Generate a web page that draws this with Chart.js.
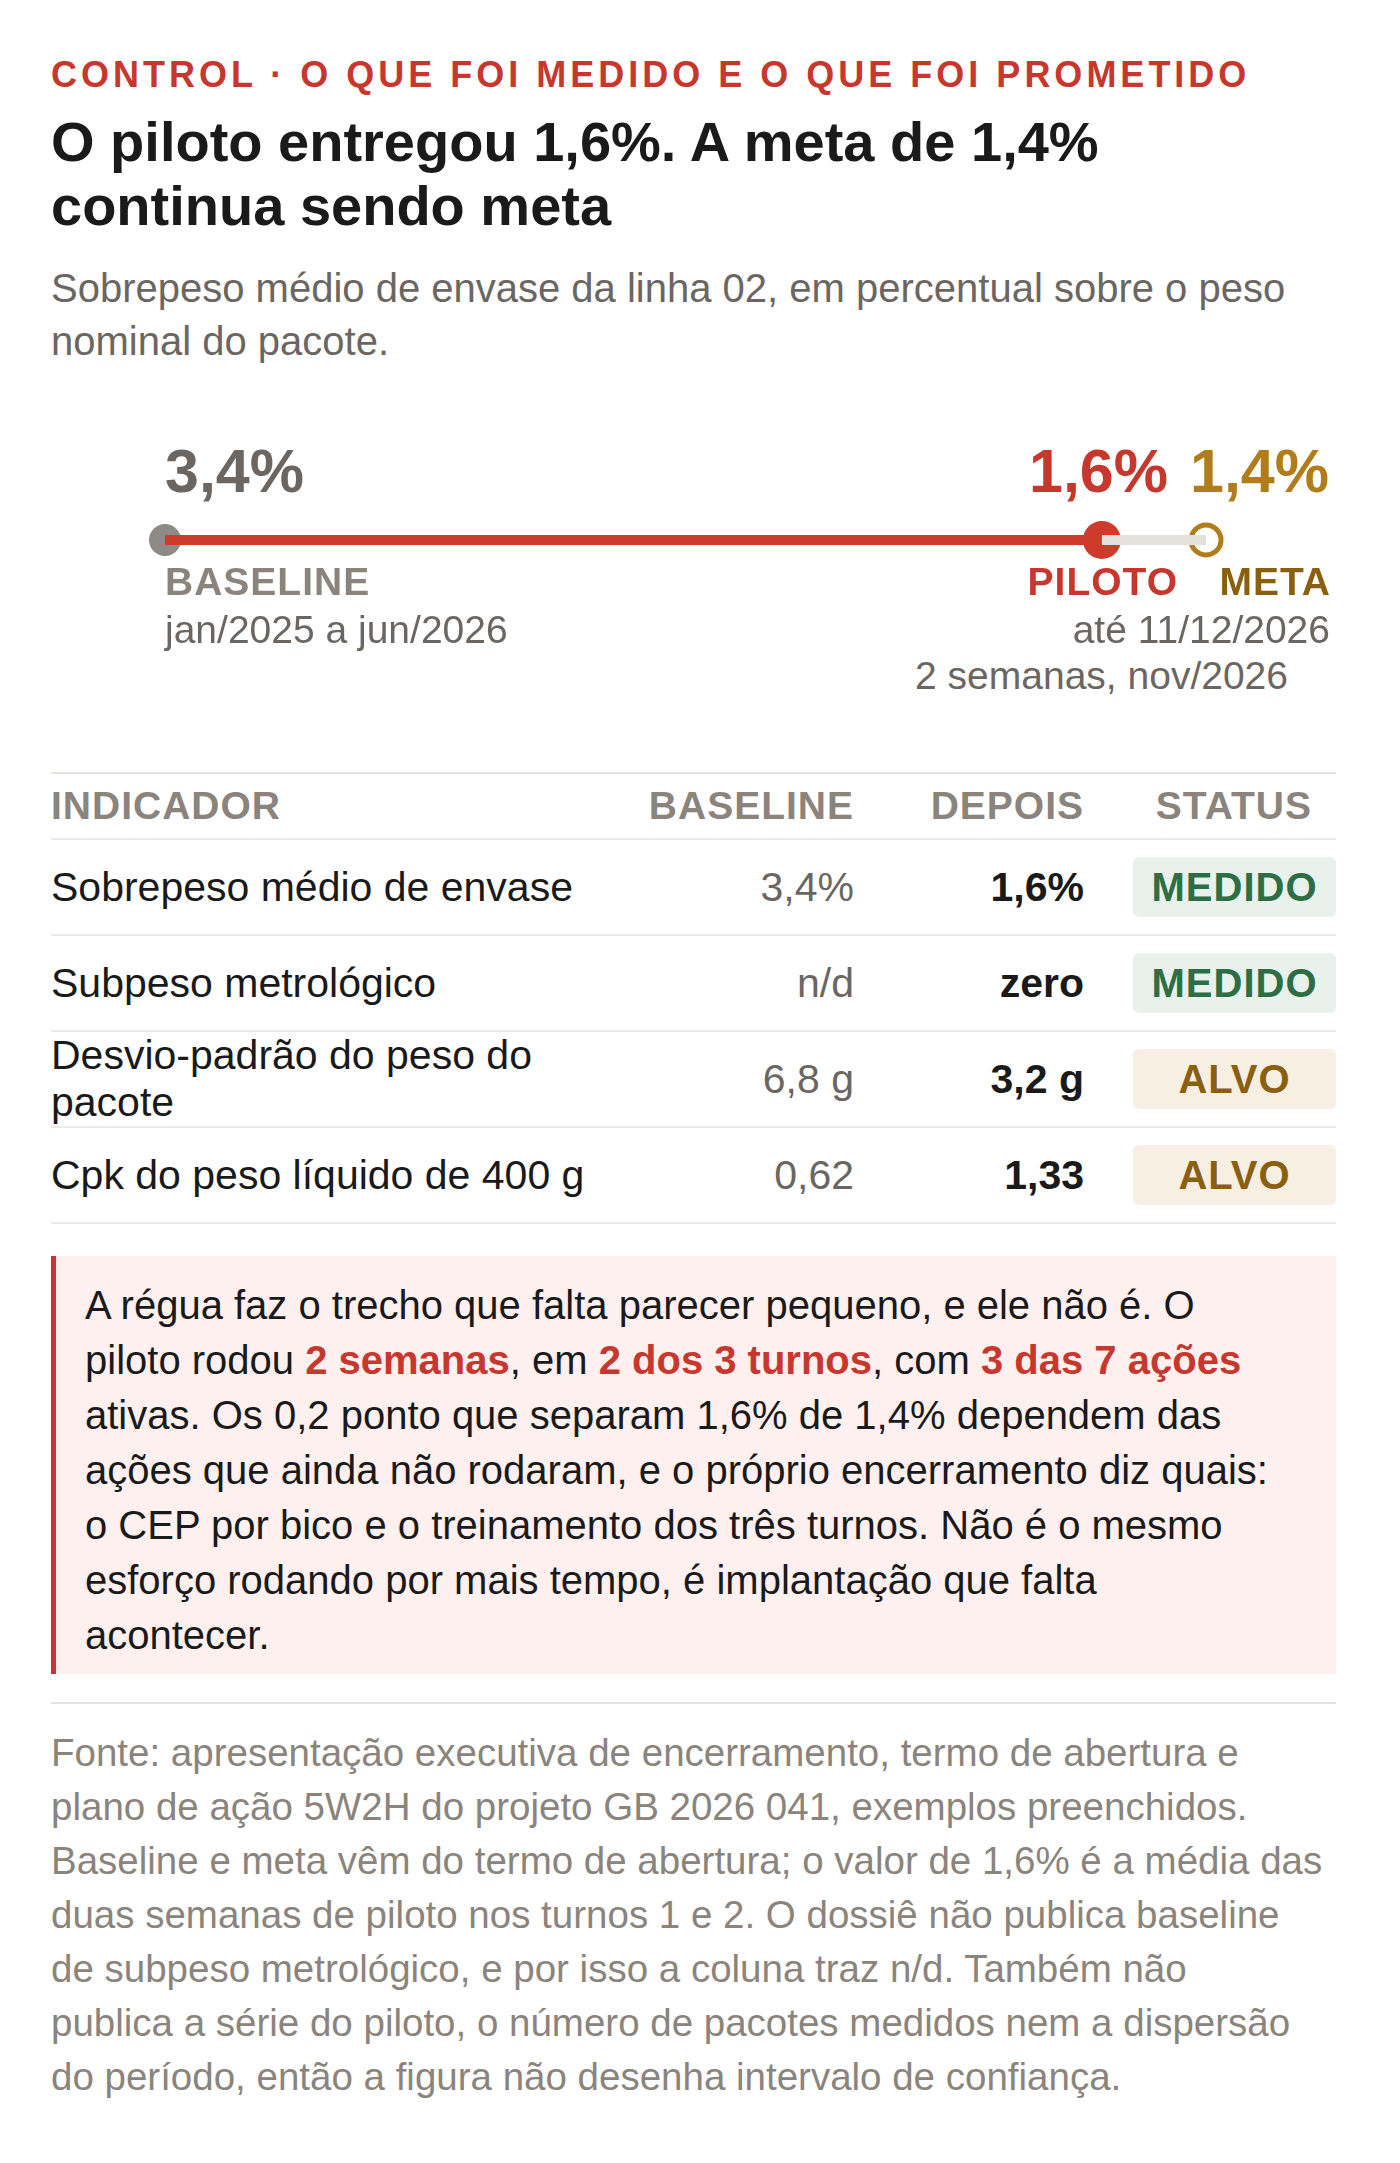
<!DOCTYPE html>
<html><head><meta charset="utf-8">
<script src="https://cdn.jsdelivr.net/npm/chart.js@4"></script>
<style>
body{margin:0;background:#fff;font-family:"Liberation Sans",Arial,Helvetica,sans-serif;color:#1a1a1a;}
#wrap{position:relative;width:1400px;height:2163px;}
.abs{position:absolute;white-space:nowrap;}
.kicker{left:51px;top:54px;font-size:36px;line-height:42px;font-weight:bold;color:#c8372d;letter-spacing:4px;}
.title{left:51px;top:110px;font-size:56px;font-weight:bold;line-height:64px;color:#1a1a1a;}
.sub{left:51px;top:262px;font-size:40px;line-height:53px;color:#6b6661;}
#chartbox{position:absolute;left:0;top:500px;width:1400px;height:80px;}
.v{font-size:61px;line-height:70px;font-weight:bold;top:436px;}
.lab{font-size:39px;line-height:44px;font-weight:bold;top:560px;letter-spacing:1px;}
.d{font-size:39px;line-height:44px;color:#6b6661;}
table{position:absolute;left:51px;top:772px;width:1285px;border-collapse:collapse;}
th{font-size:39px;color:#8a847d;font-weight:bold;letter-spacing:1px;height:64px;text-align:left;border-top:2px solid #e6e3df;padding:0;}
td{font-size:41px;height:94px;border-top:2px solid #ece9e5;padding:0;}
tr:last-child td{border-bottom:2px solid #ece9e5;}
.r{text-align:right;}
.b{font-weight:bold;}
.badge{display:block;width:203px;height:60px;line-height:60px;text-align:center;border-radius:6px;font-weight:bold;font-size:40px;letter-spacing:1px;margin-left:auto;}
.med{background:#e8f1eb;color:#2d6e44;}
.alv{background:#f6efe2;color:#8a5f10;}
.call{position:absolute;left:51px;top:1256px;width:1251px;height:396px;background:#fdf0ef;border-left:5px solid #c8372d;padding:22px 0 0 29px;font-size:40px;line-height:55px;color:#1a1a1a;white-space:nowrap;}
.call b{color:#c8372d;}
.sep{position:absolute;left:51px;top:1702px;width:1285px;border-top:2px solid #e6e3df;}
.foot{position:absolute;left:51px;top:1726px;font-size:38.5px;line-height:54px;color:#8a847d;white-space:nowrap;}
</style></head><body><div id="wrap">
<div class="abs kicker">CONTROL · O QUE FOI MEDIDO E O QUE FOI PROMETIDO</div>
<div class="abs title">O piloto entregou 1,6%. A meta de 1,4%<br>continua sendo meta</div>
<div class="abs sub">Sobrepeso médio de envase da linha 02, em percentual sobre o peso<br>nominal do pacote.</div>

<div class="abs v" style="left:165px;color:#6b6661;">3,4%</div>
<div class="abs v" style="right:232px;color:#c8372d;">1,6%</div>
<div class="abs v" style="right:71px;color:#b07d1a;">1,4%</div>
<div id="chartbox"><canvas id="c"></canvas></div>
<div class="abs lab" style="left:165px;color:#8a847d;">BASELINE</div>
<div class="abs lab" style="right:222px;color:#c8372d;">PILOTO</div>
<div class="abs lab" style="right:69px;color:#8a5f10;">META</div>
<div class="abs d" style="left:165px;top:608px;">jan/2025 a jun/2026</div>
<div class="abs d" style="right:70px;top:608px;">até 11/12/2026</div>
<div class="abs d" style="right:112px;top:654px;">2 semanas, nov/2026</div>

<table id="tbl"><thead><tr><th>INDICADOR</th><th class="r" style="width:240px">BASELINE</th><th class="r" style="width:230px">DEPOIS</th><th style="width:228px;text-align:right;padding-right:24px">STATUS</th></tr></thead><tbody></tbody></table>

<div class="call">A régua faz o trecho que falta parecer pequeno, e ele não é. O<br>piloto rodou <b>2 semanas</b>, em <b>2 dos 3 turnos</b>, com <b>3 das 7 ações</b><br>ativas. Os 0,2 ponto que separam 1,6% de 1,4% dependem das<br>ações que ainda não rodaram, e o próprio encerramento diz quais:<br>o CEP por bico e o treinamento dos três turnos. Não é o mesmo<br>esforço rodando por mais tempo, é implantação que falta<br>acontecer.</div>
<div class="sep"></div>
<div class="foot">Fonte: apresentação executiva de encerramento, termo de abertura e<br>plano de ação 5W2H do projeto GB 2026 041, exemplos preenchidos.<br>Baseline e meta vêm do termo de abertura; o valor de 1,6% é a média das<br>duas semanas de piloto nos turnos 1 e 2. O dossiê não publica baseline<br>de subpeso metrológico, e por isso a coluna traz n/d. Também não<br>publica a série do piloto, o número de pacotes medidos nem a dispersão<br>do período, então a figura não desenha intervalo de confiança.</div>
</div>
<script>
const pointLabels = ["BASELINE","PILOTO","META"];
const pointValues = [3.4, 1.6, 1.4];
const indicators = ["Sobrepeso médio de envase","Subpeso metrológico","Desvio-padrão do peso do pacote","Cpk do peso líquido de 400 g"];
const baselineVals = ["3,4%","n/d","6,8 g","0,62"];
const afterVals = ["1,6%","zero","3,2 g","1,33"];
const statusVals = ["MEDIDO","MEDIDO","ALVO","ALVO"];

const tb = document.querySelector('#tbl tbody');
indicators.forEach((n,i)=>{
  const tr=document.createElement('tr');
  tr.innerHTML=`<td>${n}</td><td class="r" style="color:#6b6661">${baselineVals[i]}</td><td class="r b">${afterVals[i]}</td><td><span class="badge ${statusVals[i]==='MEDIDO'?'med':'alv'}">${statusVals[i]}</span></td>`;
  tb.appendChild(tr);
});

new Chart(document.getElementById('c'),{
  type:'scatter',
  data:{datasets:[
    {data:[{x:pointValues[1],y:1},{x:pointValues[2],y:1}],showLine:true,borderColor:'#e4e1dc',borderWidth:10,pointRadius:0,clip:false},
    {data:[{x:pointValues[0],y:1},{x:pointValues[1],y:1}],showLine:true,borderColor:'#cf3b2b',borderWidth:10,pointRadius:0,clip:false},
    {data:[{x:pointValues[2],y:1}],pointRadius:15,pointBorderWidth:5,pointBackgroundColor:'#fff',pointBorderColor:'#b07d1a',clip:false},
    {data:[{x:pointValues[1],y:1}],pointRadius:19,pointBorderWidth:0,pointBackgroundColor:'#cf3b2b',clip:false},
    {data:[{x:pointValues[0],y:1}],pointRadius:16,pointBorderWidth:0,pointBackgroundColor:'#8e8a85',clip:false}
  ]},
  options:{responsive:true,maintainAspectRatio:false,animation:false,
    layout:{padding:{left:165,right:194,top:0,bottom:0}},
    plugins:{legend:{display:false},tooltip:{enabled:false}},
    scales:{x:{type:'linear',min:1.4,max:3.4,reverse:true,display:false},
            y:{min:0,max:2,display:false}}}
});
</script></body></html>
